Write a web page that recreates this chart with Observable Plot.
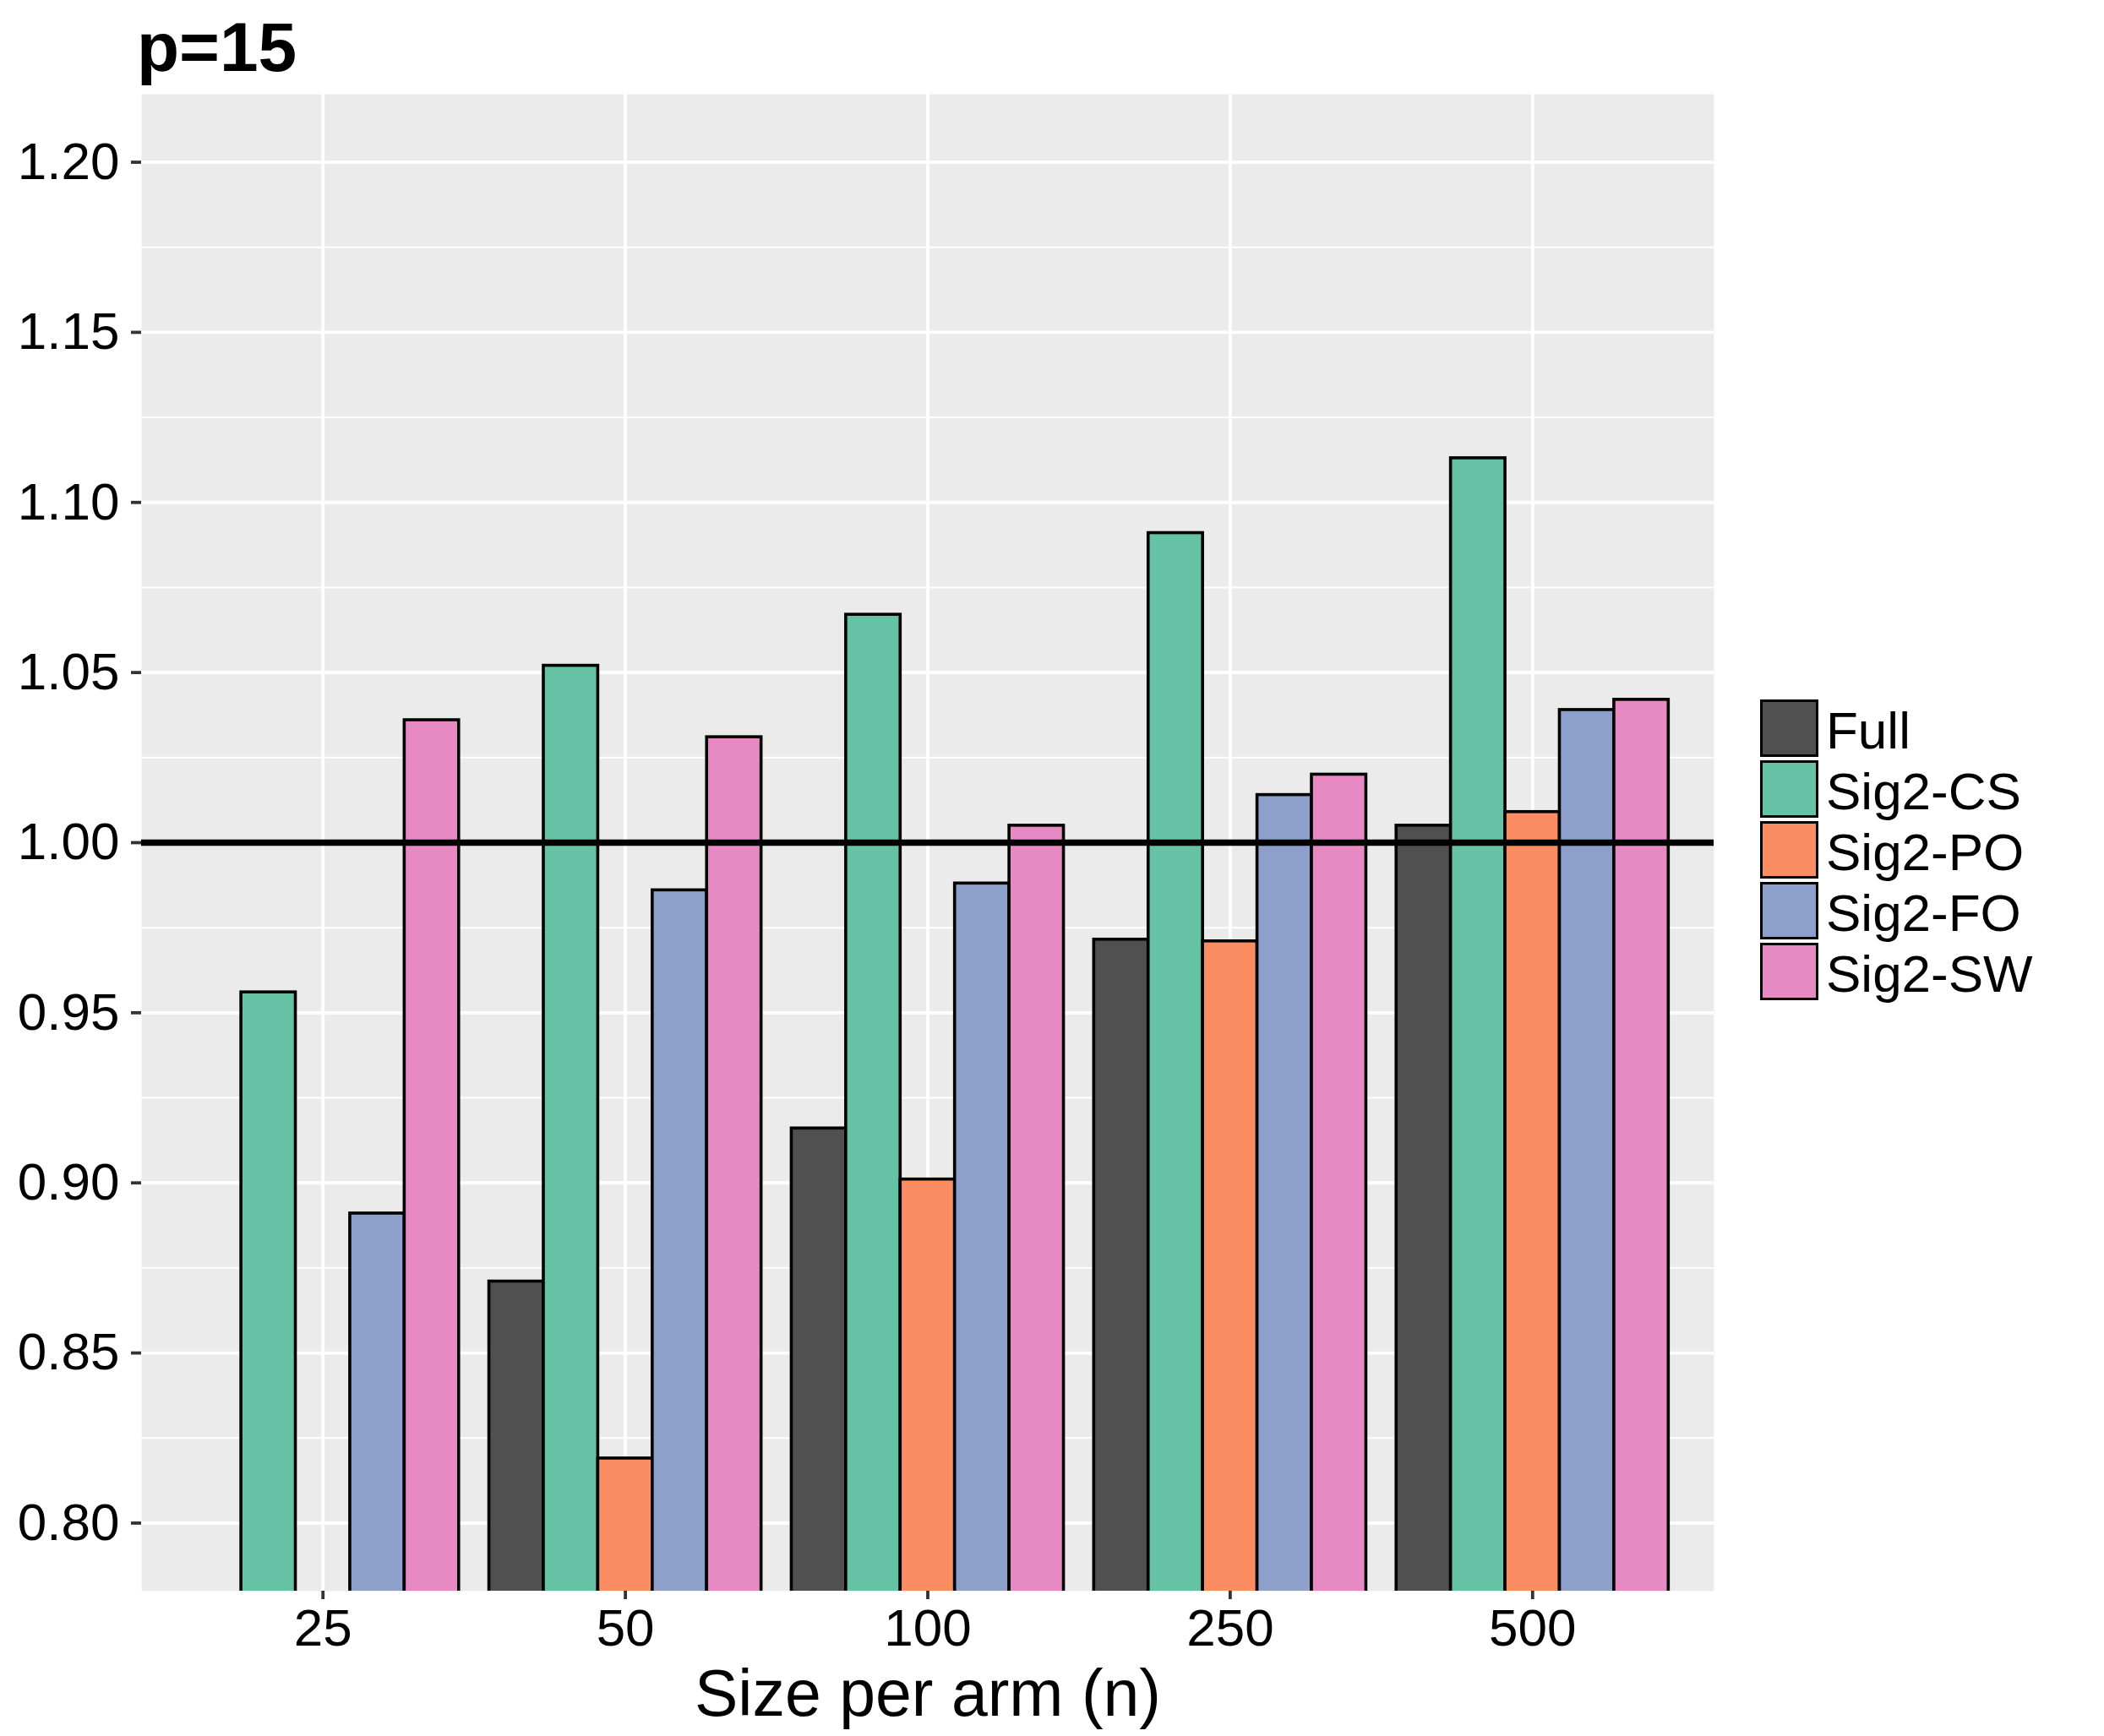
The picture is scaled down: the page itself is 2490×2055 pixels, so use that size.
<!DOCTYPE html>
<html><head><meta charset="utf-8">
<script src="https://cdn.jsdelivr.net/npm/d3@7"></script>
<script src="https://cdn.jsdelivr.net/npm/@observablehq/plot@0.6"></script>
<style>
html,body{margin:0;padding:0;background:#fff;}
#wrap{position:relative;width:2490px;height:2055px;font-family:"Liberation Sans",Arial,sans-serif;color:#000;}
#title{position:absolute;left:162px;top:15px;font-weight:bold;font-size:82px;line-height:82px;margin:0;}
#chart{position:absolute;left:0;top:100px;}
#legend{position:absolute;left:2083px;top:826px;}
.row{display:flex;align-items:center;height:72px;}
.key{width:69px;height:68px;border:3.5px solid #000;box-sizing:border-box;}
.lab{font-size:62px;margin-left:9px;line-height:1;position:relative;top:3px;}
</style>
</head><body>
<div id="wrap">
  <div id="title">p=15</div>
  <div id="chart"></div>
  <div id="legend"></div>
</div>
<script>
// ---- data ----
const sizes = ["25", "50", "100", "250", "500"];
const seriesNames = ["Full", "Sig2-CS", "Sig2-PO", "Sig2-FO", "Sig2-SW"];
const seriesColors = ["#505050", "#66C2A5", "#FC8D62", "#8DA0CB", "#E78AC3"];
const full   = [null,  0.871, 0.916, 0.9715, 1.005];
const sig2CS = [0.956, 1.052, 1.067, 1.091,  1.113];
const sig2PO = [null,  0.819, 0.901, 0.971,  1.009];
const sig2FO = [0.891, 0.986, 0.988, 1.014,  1.039];
const sig2SW = [1.036, 1.031, 1.005, 1.020,  1.042];
const yTicks = [0.80, 0.85, 0.90, 0.95, 1.00, 1.05, 1.10, 1.15, 1.20];
const yMinorTicks = [0.825, 0.875, 0.925, 0.975, 1.025, 1.075, 1.125, 1.175];
const referenceLine = [1.00];
const xTitle = "Size per arm (n)";

// ---- table built from the arrays ----
const seriesValues = [full, sig2CS, sig2PO, sig2FO, sig2SW];
const bars = [];
seriesNames.forEach((s, j) => {
  sizes.forEach((n, i) => {
    const v = seriesValues[j][i];
    if (v != null) bars.push({size: n, i, series: s, j, value: v});
  });
});
const dodge = 0.9 / seriesNames.length;
const sizeIndex = sizes.map((_, i) => i);

const chart = Plot.plot({
  width: 2060,
  height: 1955,
  marginTop: 11,
  marginBottom: 172,
  marginLeft: 167,
  marginRight: 32,
  style: {background: "transparent", fontFamily: "Liberation Sans, Arial, sans-serif", color: "black", overflow: "visible"},
  x: {type: "linear", domain: [-0.6, sizes.length - 0.4], axis: null},
  y: {domain: [0.78, 1.22], axis: null},
  color: {domain: seriesNames, range: seriesColors},
  marks: [
    Plot.frame({fill: "#EBEBEB", stroke: null}),
    Plot.gridY(yMinorTicks, {stroke: "white", strokeOpacity: 1, strokeWidth: 1.9}),
    Plot.gridY(yTicks, {stroke: "white", strokeOpacity: 1, strokeWidth: 3.8}),
    Plot.gridX(sizeIndex, {stroke: "white", strokeOpacity: 1, strokeWidth: 3.8}),
    Plot.rectY(bars, {
      x1: d => d.i - 0.45 + d.j * dodge,
      x2: d => d.i - 0.45 + (d.j + 1) * dodge,
      y1: 0,
      y2: "value",
      fill: "series",
      stroke: "black",
      strokeWidth: 3.6,
      clip: true
    }),
    Plot.ruleY(referenceLine, {stroke: "black", strokeWidth: 7.5}),
    Plot.axisY(yTicks, {tickFormat: d3.format(".2f"), tickSize: 12, tickPadding: 14, fontSize: 62, stroke: "#333", strokeWidth: 3.8, fill: "black", label: null}),
    Plot.axisX(sizeIndex, {tickFormat: i => sizes[i], tickSize: 10, tickPadding: 10, fontSize: 62, stroke: "#333", strokeWidth: 3.8, fill: "black", label: null}),
    Plot.axisX([], {label: xTitle, labelAnchor: "center", labelArrow: "none", labelOffset: 147, fontSize: 77, tickSize: 0, fill: "black"})
  ]
});
document.getElementById("chart").appendChild(chart);

// ---- legend (HTML) ----
const legend = document.getElementById("legend");
seriesNames.forEach((s, j) => {
  const row = document.createElement("div");
  row.className = "row";
  const key = document.createElement("div");
  key.className = "key";
  key.style.background = seriesColors[j];
  const lab = document.createElement("span");
  lab.className = "lab";
  lab.textContent = s;
  row.appendChild(key);
  row.appendChild(lab);
  legend.appendChild(row);
});
</script>
</body></html>
